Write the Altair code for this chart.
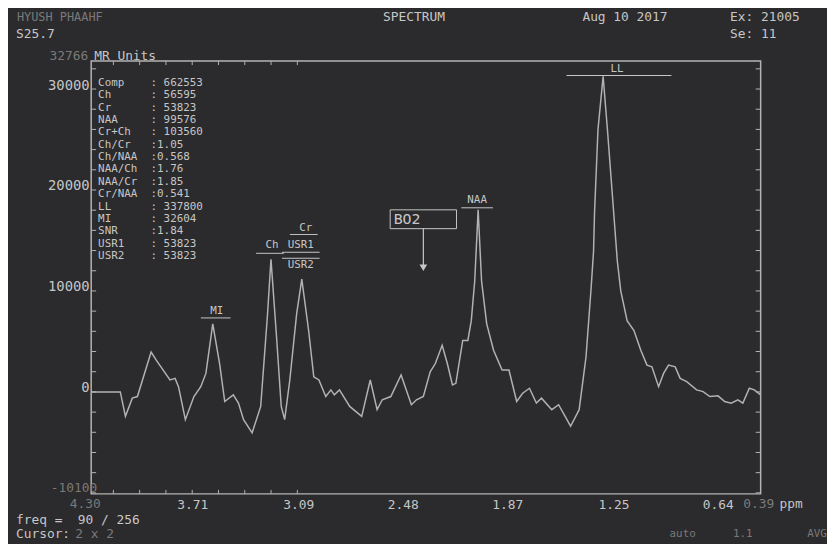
import altair as alt
import pandas as pd

# ---------------- data ----------------
ppm = [4.30, 4.13, 4.10, 4.06, 4.03, 3.95, 3.92, 3.84, 3.81, 3.79,
       3.75, 3.70, 3.66, 3.63, 3.59, 3.55, 3.52, 3.47, 3.44, 3.41,
       3.36, 3.31, 3.27, 3.25, 3.22, 3.19, 3.17, 3.14, 3.10, 3.07,
       3.03, 3.00, 2.97, 2.93, 2.90, 2.88, 2.85, 2.79, 2.72, 2.67,
       2.63, 2.60, 2.55, 2.49, 2.43, 2.40, 2.36, 2.32, 2.29, 2.25,
       2.22, 2.19, 2.17, 2.13, 2.10, 2.08, 2.06, 2.04, 2.02, 1.99,
       1.95, 1.90, 1.86, 1.815, 1.78, 1.74, 1.70, 1.67, 1.61, 1.57,
       1.50, 1.45, 1.41, 1.38, 1.366, 1.36, 1.34, 1.31, 1.285, 1.256,
       1.227, 1.207, 1.17, 1.13, 1.09, 1.054, 1.025, 0.986, 0.957, 0.928,
       0.889, 0.86, 0.822, 0.764, 0.726, 0.687, 0.639, 0.60, 0.562, 0.523,
       0.494, 0.456, 0.427, 0.39]
amp = [0, 0, -2420, -620, -460, 3950, 3140, 1180, 1340, 520,
       -2750, -460, 520, 1830, 6740, 2810, -950, -290, -1110, -2750,
       -4050, -1440, 7720, 13140, 6080, -1440, -2750, 1180, 7720, 11180,
       6080, 1500, 1180, -460, 200, -290, 200, -1440, -2420, 1180,
       -1760, -780, -460, 1670, -1270, -780, -460, 1990, 2810, 4610,
       2810, 690, 850, 5100, 5100, 7060, 10980, 18040, 10980, 6740,
       4120, 2160, 2160, -950, -130, 360, -1110, -620, -1760, -1270,
       -3400, -1760, 3460, 10320, 13920, 17840, 26010, 31250, 26010, 19480,
       12940, 10000, 7060, 6080, 4120, 2650, 2480, 520, 1830, 2650,
       2480, 1340, 1010, 200, 30, -460, -390, -950, -1110, -780,
       -1110, 360, 200, -290]

peak_names = ["MI", "Ch", "Cr", "NAA", "LL"]
peak_ppm = [3.59, 3.25, 3.07, 2.04, 1.31]
peak_amp = [6740, 13140, 11180, 18040, 31250]

cursor_label = "BO2"
cursor_ppm = 2.36
cursor_amp = 12000

stat_names = ["Comp", "Ch", "Cr", "NAA", "Cr+Ch", "Ch/Cr", "Ch/NAA", "NAA/Ch",
              "NAA/Cr", "Cr/NAA", "LL", "MI", "SNR", "USR1", "USR2"]
stat_values = ["662553", "56595", "53823", "99576", "103560", "1.05", "0.568", "1.76",
               "1.85", "0.541", "337800", "32604", "1.84", "53823", "53823"]

x_labels = [3.71, 3.09, 2.48, 1.87, 1.25, 0.64]
x_min, x_max = 0.39, 4.30
y_labels = [0, 10000, 20000, 30000]
y_min, y_max = -10100, 32766

# ---------------- styling ----------------
BG = "#2b2a2c"
FG = "#c6c6c6"
DIM = "#7a7a7a"
LINE = "#b2b2b2"
FRAME = "#b4b4b4"
FONT = "DejaVu Sans Mono"
NB = "\u00a0"
W, H = 676, 437
X0, Y0 = 92, 59  # page position of the plot origin

xs = alt.Scale(domain=[x_min, x_max], reverse=True, nice=False, zero=False)
ys = alt.Scale(domain=[y_min, y_max], nice=False, zero=False)

step = (x_labels[0] - x_labels[-1]) / 20
x_ticks = [x_labels[0] + k * step for k in range(-4, 23)]
x_ticks = [v for v in x_ticks if x_min <= v <= x_max]
y_ticks = list(range(-10000, 32001, 2000))

df = pd.DataFrame({"ppm": ppm, "amp": amp})

xaxis = alt.Axis(values=x_labels, format=".2f", domain=False, ticks=False, grid=False,
                 labelColor=FG, labelFont=FONT, labelFontSize=13, labelPadding=5,
                 labelFlush=False, labelOverlap=False, title=None)
yaxis = alt.Axis(values=y_labels, format="d", domain=False, ticks=False, grid=False,
                 labelColor=FG, labelFont=FONT, labelFontSize=14, labelPadding=2,
                 labelBaseline="alphabetic", labelFlush=False, labelOverlap=False, title=None)

line = alt.Chart(df).mark_line(color=LINE, strokeWidth=1.5).encode(
    x=alt.X("ppm:Q", scale=xs, axis=xaxis),
    y=alt.Y("amp:Q", scale=ys, axis=yaxis),
)

X = alt.X("ppm:Q", scale=xs)
Y = alt.Y("amp:Q", scale=ys)

ydf = pd.DataFrame({"amp": y_ticks})
xdf = pd.DataFrame({"ppm": x_ticks})
tick_layers = [
    alt.Chart(ydf).mark_rule(color=FRAME).encode(y=Y, x=alt.value(0), x2=alt.value(5)),
    alt.Chart(ydf).mark_rule(color=FRAME).encode(y=Y, x=alt.value(W - 5), x2=alt.value(W)),
    alt.Chart(xdf).mark_rule(color=FRAME).encode(x=X, y=alt.value(H - 4), y2=alt.value(H)),
    alt.Chart(xdf).mark_rule(color=FRAME).encode(x=X, y=alt.value(0), y2=alt.value(4)),
]


def peak_df(i):
    return pd.DataFrame({"ppm": [peak_ppm[i]], "amp": [peak_amp[i]]})


def peak_text(i, s, dx, dy, size=11):
    return alt.Chart(peak_df(i)).mark_text(text=s, dx=dx, dy=dy, font=FONT, fontSize=size,
                                           color=FG, baseline="middle").encode(x=X, y=Y)


def peak_bar(i, dx, dy, w):
    return alt.Chart(peak_df(i)).mark_tick(orient="horizontal", size=w, thickness=1,
                                           xOffset=dx, yOffset=dy, color=FG, opacity=1).encode(x=X, y=Y)


peak_layers = [
    peak_text(0, peak_names[0], 4, -13), peak_bar(0, 3, -6, 30),
    peak_text(1, peak_names[1], 1, -14), peak_bar(1, -1, -6, 28),
    peak_text(2, peak_names[2], 4, -51), peak_bar(2, 2, -45, 28),
    peak_text(2, "USR1", -1, -34), peak_bar(2, -1, -27, 38),
    peak_text(2, "USR2", -1, -14), peak_bar(2, -1, -21, 38),
    peak_text(3, peak_names[3], -1, -10), peak_bar(3, -1, -2, 32),
    peak_text(4, peak_names[4], 14, -7), peak_bar(4, 16, -1, 106),
]

cdf = pd.DataFrame({"ppm": [cursor_ppm], "amp": [cursor_amp]})
box_path = "M-1,-0.284L1,-0.284L1,0.284L-1,0.284Z"
cursor_layers = [
    alt.Chart(cdf).mark_point(shape=box_path, size=67 * 67, filled=False, stroke=FG,
                              strokeWidth=1, opacity=1, yOffset=-52).encode(x=X, y=Y),
    alt.Chart(cdf).mark_text(text=cursor_label, align="left", baseline="middle", dx=-30, dy=-52,
                             font=FONT, fontSize=15, color=FG).encode(x=X, y=Y),
    alt.Chart(cdf).mark_tick(orient="vertical", size=39, thickness=1.2, yOffset=-23.5,
                             color=FG, opacity=1).encode(x=X, y=Y),
    alt.Chart(cdf).mark_point(shape="triangle-down", size=60, filled=True, color=FG,
                              opacity=1, yOffset=-3).encode(x=X, y=Y),
]

one = pd.DataFrame({"k": [0]})


def txt(s, x, y, color=FG, align="left", size=13):
    return alt.Chart(one).mark_text(text=s.replace(" ", NB), align=align, baseline="middle",
                                    font=FONT, fontSize=size, color=color).encode(
        x=alt.value(x - X0), y=alt.value(y - Y0))


stat_lines = []
for n, v in zip(stat_names, stat_values):
    sep = ":" if "." in v else ": "
    stat_lines.append(f"{n:<8}{sep}{v}".replace(" ", NB))
stats = alt.Chart(one).mark_text(text="\n".join(stat_lines), align="left", baseline="top",
                                 lineBreak="\n", lineHeight=12.5, font=FONT, fontSize=11,
                                 color=FG).encode(x=alt.value(99 - X0), y=alt.value(75 - Y0))

text_layers = [
    txt("HYUSH PHAAHF", 17, 15, DIM, size=12),
    txt("S25.7", 16, 32, FG),
    txt("SPECTRUM", 418, 15, FG, align="center"),
    txt("Aug 10 2017", 588, 15, FG),
    txt("Ex: 21005", 737, 15, FG),
    txt("Se: 11", 737, 32, FG),
    txt("32766", 89, 54, DIM, align="right"),
    txt("MR Units", 95, 54, FG),
    txt("-10100", 98, 490, DIM, align="right"),
    txt("4.30", 86, 506, DIM, align="center"),
    txt("0.39", 766, 506, DIM, align="center"),
    txt("ppm", 787, 506, FG),
    txt("freq =  90 / 256", 16, 522, FG),
    txt("Cursor:", 16, 537, FG),
    txt("2 x 2", 76, 537, DIM),
    txt("auto", 676, 537, DIM, size=11),
    txt("1.1", 740, 537, DIM, size=11),
    txt("AVG", 815, 537, DIM, size=11),
    stats,
]

chart = alt.layer(
    line, *tick_layers, *peak_layers, *cursor_layers, *text_layers
).properties(
    width=W, height=H, background=BG,
    padding={"left": X0 - 8, "top": Y0 - 8, "right": 827 - (X0 - 8) - W, "bottom": 536 - (Y0 - 8) - H},
    autosize=alt.AutoSizeParams(type="none"),
).configure_view(stroke=FRAME, strokeWidth=1.5)

chart.save("out.html", embed_options={"renderer": "svg", "actions": False})
